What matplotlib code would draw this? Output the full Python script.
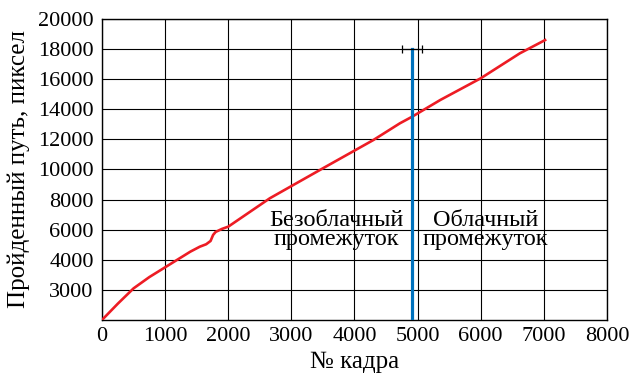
import matplotlib.pyplot as plt

plt.rcParams['font.family'] = ['Liberation Serif', 'DejaVu Serif']

# path travelled vs frame number
frames = [0, 250, 500, 750, 1000, 1250, 1400, 1550, 1650, 1720, 1760, 1800, 1900, 2000,
          2660, 3500, 4300, 4720, 4910, 5360, 6000, 6620, 7020]
path = [0, 1080, 2100, 2850, 3500, 4150, 4540, 4870, 5030, 5250, 5650, 5850, 6050, 6200,
        8090, 10080, 11960, 13070, 13500, 14620, 16060, 17720, 18600]

boundary_frame = 4910
boundary_top = 18000
boundary_err = [[150], [156]]

x_ticks = [0, 1000, 2000, 3000, 4000, 5000, 6000, 7000, 8000]
y_ticks = [2000, 4000, 6000, 8000, 10000, 12000, 14000, 16000, 18000, 20000]
y_labels = ['3000', '4000', '6000', '8000', '10000', '12000', '14000', '16000', '18000', '20000']

fig = plt.figure(figsize=(6.32, 3.8), dpi=100)
ax = fig.add_axes([0.1614, 0.158, 0.799, 0.792])

ax.plot(frames, path, color='#ed1c24', lw=1.9, zorder=3)
ax.plot([boundary_frame, boundary_frame], [0, boundary_top], color='#0072bd', lw=2.3, zorder=4)
ax.errorbar(boundary_frame, boundary_top, xerr=boundary_err, fmt='none', ecolor='k',
            elinewidth=0.9, capsize=3, capthick=0.9, zorder=5)

ax.text(3708, 5950, 'Безоблачный\nпромежуток', ha='center', va='center', fontsize=17.5,
        linespacing=0.88, zorder=6)
ax.text(6070, 5950, 'Облачный\nпромежуток', ha='center', va='center', fontsize=17.5,
        linespacing=0.88, zorder=6)

ax.set_xlim(0, 8000)
ax.set_ylim(0, 20000)
ax.set_xticks(x_ticks)
ax.set_yticks(y_ticks)
ax.set_yticklabels(y_labels)
ax.tick_params(length=0, labelsize=16)
ax.tick_params(axis='y', pad=6)
ax.tick_params(axis='x', pad=5)
ax.grid(True, color='k', lw=0.8)
ax.set_axisbelow(True)
for s in ax.spines.values():
    s.set_linewidth(1.0)

ax.set_xlabel('№ кадра', fontsize=18, labelpad=4)
ax.set_ylabel('Пройденный путь, пиксел', fontsize=18, labelpad=6)

plt.savefig('out.png', dpi=100)
